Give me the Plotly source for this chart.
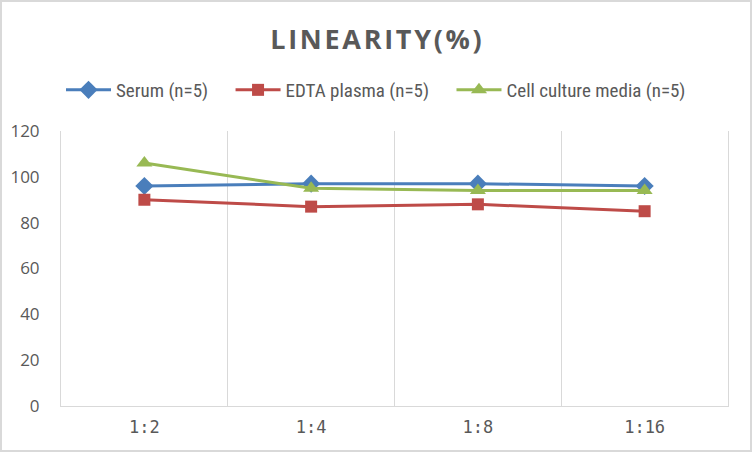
import plotly.graph_objects as go

# dilution ratios and recovery values (%)
dilutions = ["1:2", "1:4", "1:8", "1:16"]
serum = [96, 97, 97, 96]
edta_plasma = [90, 87, 88, 85]
cell_culture = [106, 95, 94, 94]
y_ticks = [0, 20, 40, 60, 80, 100, 120]

pad = "\u00a0" * 4  # a bit more room between legend entries
series = [
    ("Serum (n=5)" + pad, serum, "#4A7EBB", "diamond", 14),
    ("EDTA plasma (n=5)" + pad, edta_plasma, "#BE4B48", "square", 12),
    ("Cell culture media (n=5)", cell_culture, "#98B954", "triangle-up", 14),
]

fig = go.Figure()
for name, vals, color, symbol, size in series:
    fig.add_trace(go.Scatter(
        x=dilutions, y=vals, name=name,
        mode="lines+markers",
        line=dict(color=color, width=3),
        marker=dict(symbol=symbol, size=size, color=color),
    ))

W, H = 752, 452
ml, mr, mt, mb = 61, 24, 131, 46
pw, ph = W - ml - mr, H - mt - mb

fig.update_layout(
    width=W, height=H,
    margin=dict(l=ml, r=mr, t=mt, b=mb, autoexpand=False),
    paper_bgcolor="white",
    plot_bgcolor="white",
    title=dict(
        text="<b>L I N E A R I T Y ( % )</b>".replace(" ", "\u200a"),
        x=0.5, xanchor="center", xref="container",
        y=1 - 40 / H, yanchor="middle", yref="container",
        font=dict(family="Open Sans", size=27, color="#595959"),
    ),
    legend=dict(
        orientation="h", x=0.5, xanchor="center", xref="container",
        y=1 - 90 / H, yanchor="middle", yref="container",
        font=dict(family="Liberation Sans Narrow, Roboto Condensed, Roboto", size=19, color="#595959"),
        itemwidth=45, tracegroupgap=0,
    ),
    xaxis=dict(
        type="category",
        range=[-0.5, 3.5],
        tickson="boundaries",
        showgrid=True, gridcolor="#D9D9D9", gridwidth=1,
        showline=True, linecolor="#D9D9D9", linewidth=1,
        ticks="", ticklen=0,
        ticklabelstandoff=6,
        tickfont=dict(family="DejaVu Sans Mono", size=17, color="#595959"),
        zeroline=False,
        automargin=False,
    ),
    yaxis=dict(
        range=[0, 120],
        tickvals=y_ticks,
        showgrid=False,
        zeroline=False,
        # outer category boundaries show as left/right lines
        showline=True, mirror=True, linecolor="#D9D9D9", linewidth=1,
        ticks="",
        ticklabelstandoff=17,
        tickfont=dict(family="Open Sans", size=17, color="#595959"),
        automargin=False,
    ),
    shapes=[dict(
        type="rect", xref="paper", yref="paper",
        x0=-(ml - 1) / pw, x1=1 + (mr - 1) / pw,
        y0=-(mb - 1) / ph, y1=1 + (mt - 1) / ph,
        line=dict(color="#D9D9D9", width=2),
        layer="below",
    )],
)

# the default page keeps an 8px body margin; drop it so the figure fills the window
fig.write_html("out.html", config={"displayModeBar": False},
               post_script="document.body.style.margin='0';")
